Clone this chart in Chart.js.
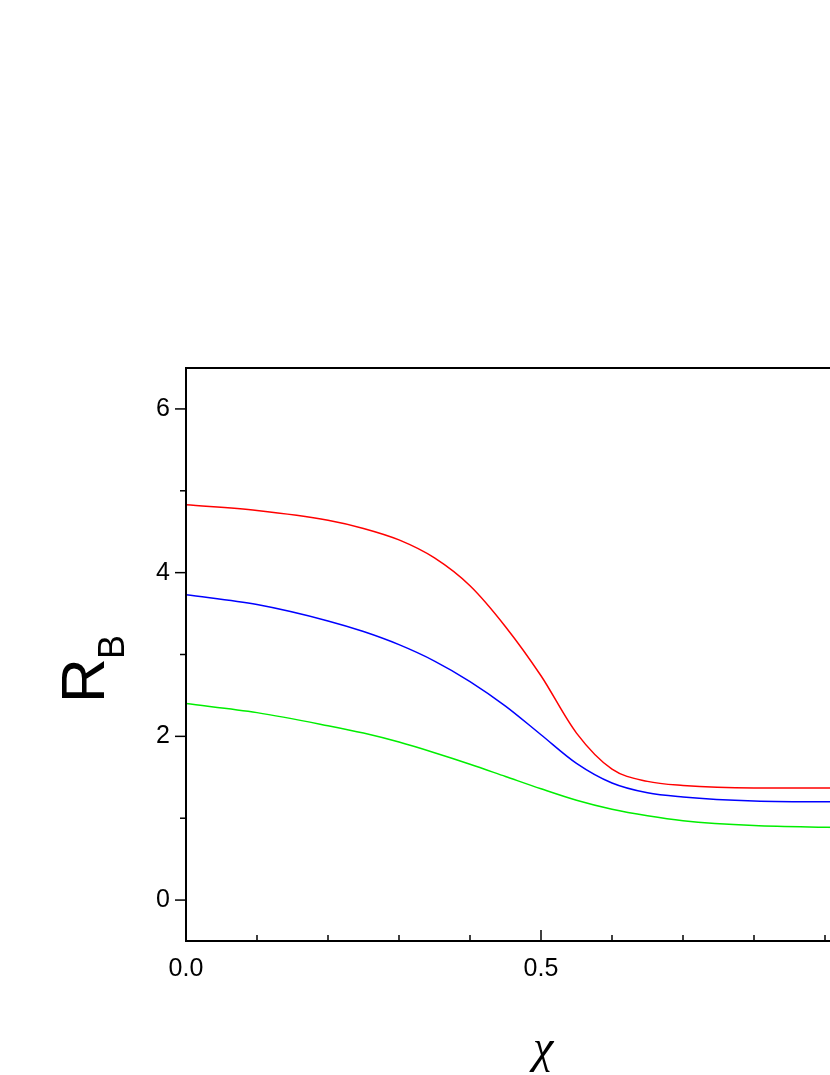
<!DOCTYPE html>
<html>
<head>
<meta charset="utf-8">
<script src="https://cdn.jsdelivr.net/npm/chart.js@4"></script>
<style>
html,body{margin:0;padding:0;background:#fff;overflow:hidden;}
#wrap{position:absolute;left:0;top:0;width:900px;height:1075px;}
</style>
</head>
<body>
<div id="wrap"><canvas id="myChart" width="900" height="1075"></canvas></div>
<script>
var xs = [0, 0.1, 0.2, 0.25, 0.3, 0.35, 0.4, 0.45, 0.5, 0.55, 0.6, 0.65, 0.7, 0.8, 0.9, 1.0];
var red = [4.83, 4.76, 4.64, 4.54, 4.40, 4.18, 3.84, 3.34, 2.74, 2.04, 1.60, 1.45, 1.40, 1.37, 1.37, 1.37];
var blue = [3.73, 3.61, 3.41, 3.28, 3.12, 2.92, 2.67, 2.37, 2.02, 1.67, 1.43, 1.31, 1.26, 1.21, 1.20, 1.20];
var green = [2.40, 2.29, 2.13, 2.04, 1.93, 1.80, 1.66, 1.51, 1.36, 1.22, 1.11, 1.03, 0.97, 0.91, 0.89, 0.88];
var xTicks = [0, 0.5, 1.0];
var yTicks = [0, 2, 4, 6];

function pts(ys) { return xs.map(function(x, i) { return {x: x, y: ys[i]}; }); }
function ds(ys, c) { return {data: pts(ys), borderColor: c, borderWidth: 1.5, pointRadius: 0, cubicInterpolationMode: 'monotone', fill: false}; }

var axesPlugin = {
    id: 'axes',
    afterDraw: function(chart) {
        var ctx = chart.ctx, a = chart.chartArea;
        var sx = chart.scales.x, sy = chart.scales.y;
        ctx.save();
        ctx.strokeStyle = '#000';
        ctx.lineWidth = 2;
        ctx.strokeRect(a.left, a.top, a.right - a.left, a.bottom - a.top);
        ctx.lineWidth = 1.5;
        ctx.fillStyle = '#000';
        ctx.font = '25px "Liberation Sans", Arial, sans-serif';
        // y ticks
        for (var v = 0; v <= 6; v++) {
            var py = sy.getPixelForValue(v);
            var len = v % 2 === 0 ? 11 : 6;
            ctx.beginPath(); ctx.moveTo(a.left - len, py); ctx.lineTo(a.left, py); ctx.stroke();
        }
        ctx.textAlign = 'right'; ctx.textBaseline = 'middle';
        yTicks.forEach(function(t) { ctx.fillText(String(t), a.left - 16, sy.getPixelForValue(t)); });
        // x ticks
        for (var i = 0; i <= 10; i++) {
            var px = sx.getPixelForValue(i / 10);
            var l2 = i % 5 === 0 ? 11 : 6;
            ctx.beginPath(); ctx.moveTo(px, a.bottom); ctx.lineTo(px, a.bottom - l2); ctx.stroke();
        }
        ctx.textAlign = 'center'; ctx.textBaseline = 'top';
        xTicks.forEach(function(t) { ctx.fillText(t.toFixed(1), sx.getPixelForValue(t), a.bottom + 16); });
        // axis titles
        ctx.font = '62px "Liberation Sans", Arial, sans-serif';
        ctx.textAlign = 'left'; ctx.textBaseline = 'alphabetic';
        ctx.save();
        ctx.translate(104, 703);
        ctx.rotate(-Math.PI / 2);
        ctx.fillText('R', 0, 0);
        ctx.font = '36px "Liberation Sans", Arial, sans-serif';
        ctx.fillText('B', 44, 20);
        ctx.restore();
        ctx.font = 'italic 46px "Liberation Serif", serif';
        ctx.textAlign = 'center';
        ctx.fillText('χ', 543, 1062);
        ctx.restore();
    }
};

var ctx = document.getElementById('myChart').getContext('2d');
var myChart = new Chart(ctx, {
    type: 'line',
    data: { datasets: [ds(red, '#ff0000'), ds(blue, '#0000ff'), ds(green, '#00ee00')] },
    options: {
        responsive: false,
        animation: false,
        layout: { padding: { left: 186, top: 368, right: 4, bottom: 134 } },
        plugins: { legend: { display: false }, tooltip: { enabled: false } },
        scales: {
            x: { type: 'linear', min: 0, max: 1, display: false },
            y: { type: 'linear', min: -0.5, max: 6.5, display: false }
        }
    },
    plugins: [axesPlugin]
});
</script>
</body>
</html>
